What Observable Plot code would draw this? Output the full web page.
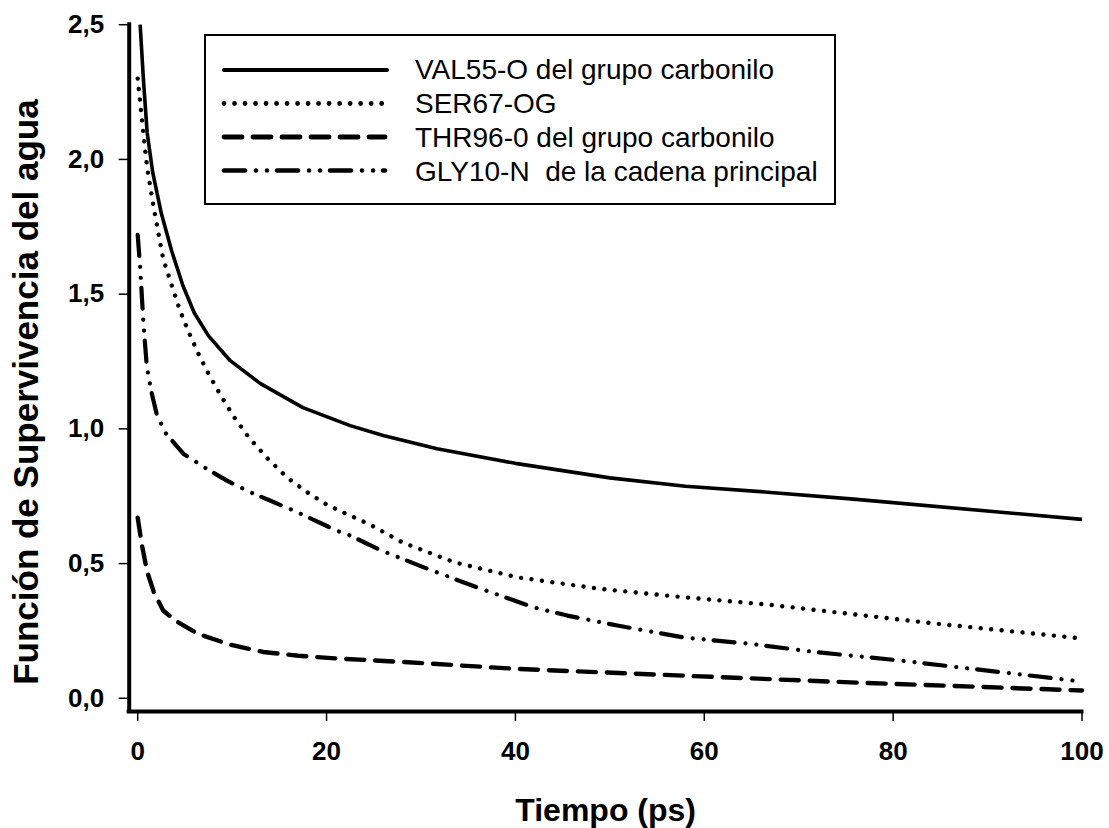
<!DOCTYPE html>
<html>
<head>
<meta charset="utf-8">
<script src="https://cdn.jsdelivr.net/npm/d3@7"></script>
<script src="https://cdn.jsdelivr.net/npm/@observablehq/plot@0.6"></script>
<style>
  html, body { margin: 0; padding: 0; background: #fff; }
  #wrap { position: relative; width: 1109px; height: 828px; overflow: hidden; }
  .legtext { position: absolute; left: 415px; height: 34px; line-height: 34px; font-family: "Liberation Sans", Arial, sans-serif; font-size: 28px; color: #000; white-space: pre; }
  #legbox { position: absolute; left: 204px; top: 34px; width: 632px; height: 171px; box-sizing: border-box; border: 2px solid #000; }
  #legsvg { position: absolute; left: 0; top: 0; }
</style>
</head>
<body>
<div id="wrap"></div>
<script>
// ---- data ----
const xLabel = "Tiempo (ps)";
const yLabel = "Función de Supervivencia del agua";
const xTicks = [0, 20, 40, 60, 80, 100];
const yTicks = [0, 0.5, 1, 1.5, 2, 2.5];
const xDomain = [-0.9, 100];
const yDomain = [-0.049, 2.5];

const seriesNames = [
  "VAL55-O del grupo carbonilo",
  "SER67-OG",
  "THR96-0 del grupo carbonilo",
  "GLY10-N  de la cadena principal"
];

const val55 = [[0.26,2.50],[0.6,2.30],[1.0,2.10],[1.6,1.95],[2.5,1.80],[3.6,1.66],[4.8,1.53],[6.0,1.43],[7.5,1.345],[9.8,1.253],[13,1.168],[17.5,1.079],[22.5,1.012],[26,0.975],[31.7,0.926],[40,0.872],[50,0.818],[58,0.787],[66.7,0.765],[75.5,0.740],[100,0.664]];
const ser67 = [[0,2.30],[0.3,2.20],[0.6,2.095],[1.0,1.97],[1.7,1.82],[2.7,1.63],[3.4,1.555],[4.5,1.437],[5.4,1.359],[6.4,1.281],[7.5,1.204],[8.7,1.130],[10.1,1.049],[11.7,0.971],[13.7,0.892],[15.8,0.820],[18.1,0.761],[20.2,0.715],[22.5,0.678],[24.6,0.645],[28,0.579],[33.5,0.505],[40.2,0.449],[49,0.406],[57.8,0.375],[66.7,0.348],[75.5,0.313],[84.3,0.278],[100,0.222]];
const thr96 = [[0,0.67],[0.44,0.57],[1.0,0.47],[1.7,0.395],[2.7,0.326],[4.0,0.288],[6.4,0.239],[9.8,0.199],[13.3,0.172],[17,0.158],[21,0.148],[27.5,0.136],[40.2,0.109],[57.8,0.084],[75.5,0.059],[100,0.029]];
const gly10 = [[0,1.72],[0.26,1.60],[0.61,1.39],[0.97,1.229],[1.5,1.13],[2.0,1.056],[2.9,0.987],[3.8,0.950],[4.85,0.907],[7.3,0.852],[9.45,0.808],[11.9,0.765],[14,0.734],[16.5,0.697],[21.1,0.622],[22.5,0.604],[25.7,0.550],[30.3,0.486],[35.9,0.412],[41.9,0.338],[45.5,0.307],[50.8,0.270],[57.8,0.226],[64.9,0.202],[71.9,0.171],[80.8,0.140],[91.4,0.097],[100,0.062]];

const seriesData = [val55, ser67, thr96, gly10];
// ---- styles ----
const lineStyles = [
  {width: 3.6, dash: null},
  {width: 4.4, dash: "0.01 10.5"},
  {width: 4.4, dash: "18 11"},
  {width: 4.2, dash: "21 11 0.01 11 0.01 10"}
];

const fmtY = d => d.toFixed(1).replace(".", ",");

const lineMarks = seriesData.map((data, i) =>
  Plot.line(data, {
    x: d => d[0], y: d => d[1],
    stroke: "black",
    strokeWidth: lineStyles[i].width,
    strokeDasharray: lineStyles[i].dash,
    strokeLinecap: lineStyles[i].dash ? "round" : "butt",
    strokeLinejoin: "round"
  })
);

const chart = Plot.plot({
  width: 1109,
  height: 828,
  marginLeft: 128.7,
  marginRight: 27.5,
  marginTop: 24.2,
  marginBottom: 117,
  x: {domain: xDomain},
  y: {domain: yDomain},
  style: {fontFamily: "'Liberation Sans', Arial, sans-serif", fontSize: "26px", fontWeight: "bold", background: "white", color: "black"},
  marks: [
    Plot.axisX({ticks: xTicks, tickSize: 10, tickPadding: 20, tickFormat: d => String(d), label: null, strokeWidth: 1.5, fontSize: 26, fontWeight: "bold"}),
    Plot.axisY({ticks: yTicks, tickSize: 10, tickPadding: 15, tickFormat: fmtY, label: null, strokeWidth: 1.5, fontSize: 26, fontWeight: "bold"}),
    ...lineMarks,
    Plot.ruleX([xDomain[0]], {stroke: "black", strokeWidth: 4, strokeLinecap: "square"}),
    Plot.ruleY([yDomain[0]], {stroke: "black", strokeWidth: 4, strokeLinecap: "square"}),
    Plot.text([xLabel], {text: d => d, frameAnchor: "bottom", lineAnchor: "middle", textAnchor: "middle", dy: 99, fontSize: 32, fontWeight: "bold"}),
    Plot.text([yLabel], {text: d => d, frameAnchor: "left", lineAnchor: "middle", textAnchor: "middle", rotate: -90, dx: -102, dy: 24, fontSize: 35, fontWeight: "bold"})
  ]
});

// make sure tick labels use the intended size
d3.select(chart)
  .selectAll('g[aria-label="x-axis tick label"], g[aria-label="y-axis tick label"]')
  .attr("font-size", 26)
  .style("font-size", "26px")
  .style("font-weight", "bold");

const wrap = document.getElementById("wrap");
wrap.appendChild(chart);

// ---- legend (overlay inside the plot area) ----
const box = document.createElement("div");
box.id = "legbox";
wrap.appendChild(box);

const legLineY = [70, 103.5, 137, 170.5];
const legTextY = [70, 104, 138, 172];
const ns = "http://www.w3.org/2000/svg";
const legSvg = document.createElementNS(ns, "svg");
legSvg.setAttribute("id", "legsvg");
legSvg.setAttribute("width", 1109);
legSvg.setAttribute("height", 828);
wrap.appendChild(legSvg);

seriesNames.forEach((name, i) => {
  const ln = document.createElementNS(ns, "line");
  ln.setAttribute("x1", 224);
  ln.setAttribute("x2", i === 0 ? 387 : 385);
  ln.setAttribute("y1", legLineY[i]);
  ln.setAttribute("y2", legLineY[i]);
  ln.setAttribute("stroke", "black");
  ln.setAttribute("stroke-width", lineStyles[i].width + 0.4);
  ln.setAttribute("stroke-linecap", "round");
  if (lineStyles[i].dash) ln.setAttribute("stroke-dasharray", lineStyles[i].dash);
  legSvg.appendChild(ln);

  const t = document.createElement("div");
  t.className = "legtext";
  t.style.top = (legTextY[i] - 16.7) + "px";
  t.textContent = name;
  wrap.appendChild(t);
});
</script>
</body>
</html>
